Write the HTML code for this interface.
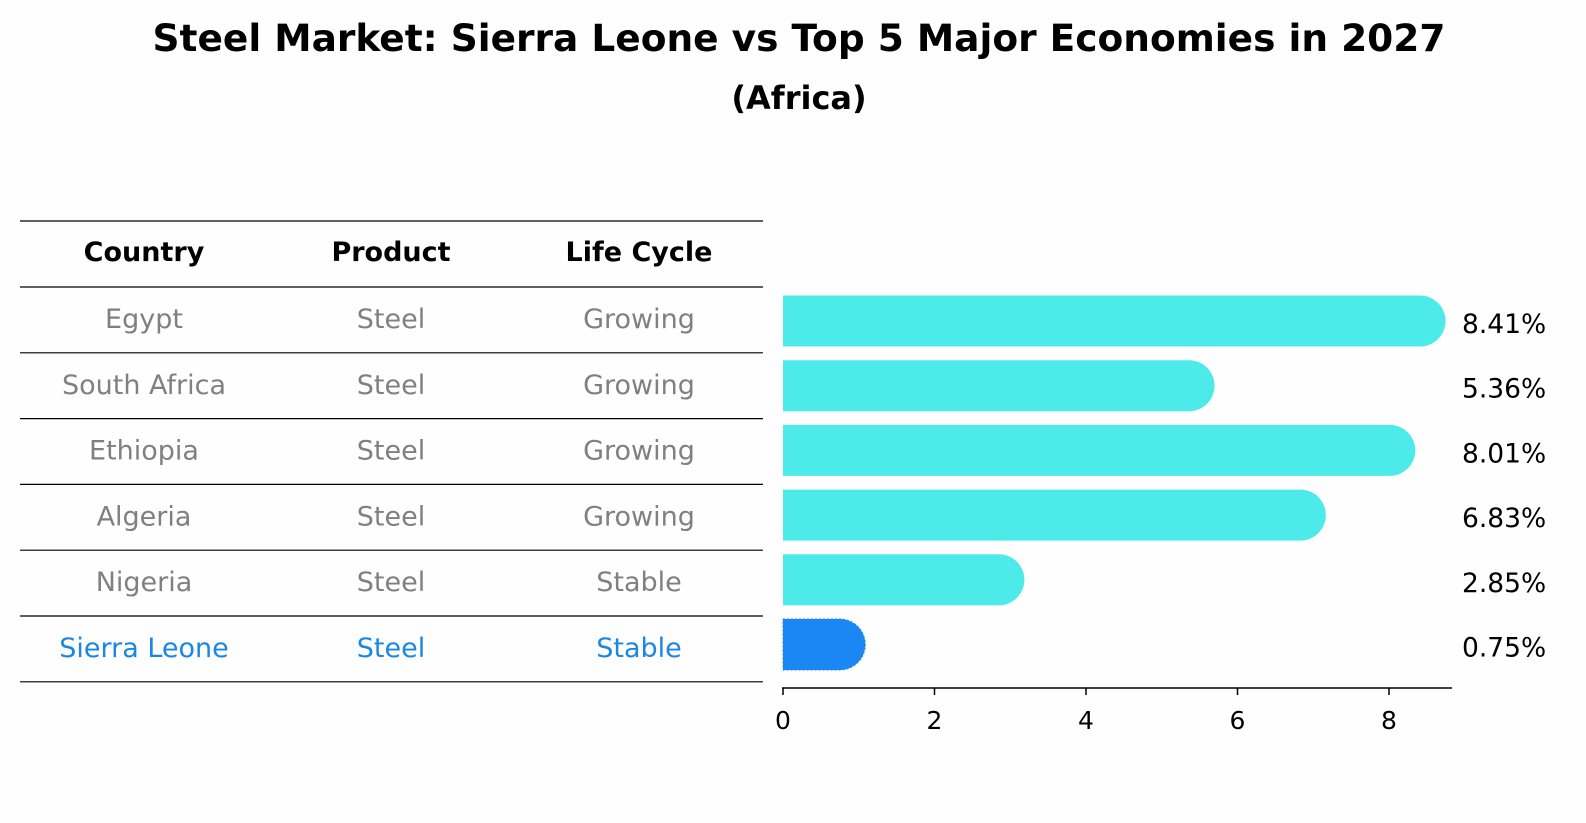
<!DOCTYPE html>
<html><head><meta charset="utf-8"><style>
body{margin:0;background:#fefefe;font-family:"DejaVu Sans",sans-serif;}
#wrap{position:relative;width:1586px;height:823px;overflow:hidden;}
</style></head><body>
<div id="wrap">
<svg id="svg" width="1586" height="823" style="position:absolute;left:0;top:0" font-family="DejaVu Sans, sans-serif">
<text x="799" y="51" text-anchor="middle" font-size="37.5" font-weight="bold">Steel Market: Sierra Leone vs Top 5 Major Economies in 2027</text>
<text x="799" y="109" text-anchor="middle" font-size="32" font-weight="bold">(Africa)</text>
</svg>
</div>
<script>
const countries=["Egypt","South Africa","Ethiopia","Algeria","Nigeria","Sierra Leone"];
const products=["Steel","Steel","Steel","Steel","Steel","Steel"];
const lifecycles=["Growing","Growing","Growing","Growing","Stable","Stable"];
const values=[8.41,5.36,8.01,6.83,2.85,0.75];
const valueLabels=["8.41%","5.36%","8.01%","6.83%","2.85%","0.75%"];
const ticks=[0,2,4,6,8];
const NS="http://www.w3.org/2000/svg";
const svg=document.getElementById('svg');
function mk(t,a,txt){const e=document.createElementNS(NS,t);for(const k in a)e.setAttribute(k,a[k]);if(txt!==undefined)e.textContent=txt;svg.appendChild(e);return e;}
const x=v=>783+v*75.75;
const rowY=i=>321+i*64.7;
const colX=[144,391,639];
let l=mk('line',{x1:20,x2:763,y1:221,y2:221,stroke:'#000','stroke-width':1.2});


["Country","Product","Life Cycle"].forEach((h,j)=>{const t=mk('text',{x:colX[j],y:261,'text-anchor':'middle','font-size':27,'font-weight':'bold'},h);

});
for(let i=0;i<=countries.length;i++){const y=287+i*65.8;const ln=mk('line',{x1:20,x2:763,y1:y,y2:y,stroke:'#000','stroke-width':1.2});

}
countries.forEach((c,i)=>{const y=328+i*65.8;const hl=c==="Sierra Leone";const col=hl?'#1a87e6':'#808080';
[c,products[i],lifecycles[i]].forEach((s,j)=>{const t=mk('text',{x:colX[j],y:y,'text-anchor':'middle','font-size':27,fill:col},s);

});});
const h=51,r=25.5;
values.forEach((v,i)=>{const yc=rowY(i);const hl=countries[i]==="Sierra Leone";const col=hl?'#1a87f5':'#4deaea';
const xe=x(v);
const p=mk('path',{d:`M${x(0)},${yc-h/2} H${xe} A${r},${r} 0 0 1 ${xe},${yc+h/2} H${x(0)} Z`,fill:col});
if(hl){p.setAttribute('stroke','#1a87f5');p.setAttribute('stroke-dasharray','2,2');}


const t=mk('text',{x:1462,y:yc+12,'font-size':26.5},valueLabels[i]);

});
const ax=mk('line',{x1:782,x2:1452,y1:688,y2:688,stroke:'#000','stroke-width':1.5});


ticks.forEach(tv=>{const tk=mk('line',{x1:x(tv),x2:x(tv),y1:688,y2:695,stroke:'#000','stroke-width':1.5});


const t=mk('text',{x:x(tv),y:729,'text-anchor':'middle','font-size':25},String(tv));

});
</script>
</body></html>
